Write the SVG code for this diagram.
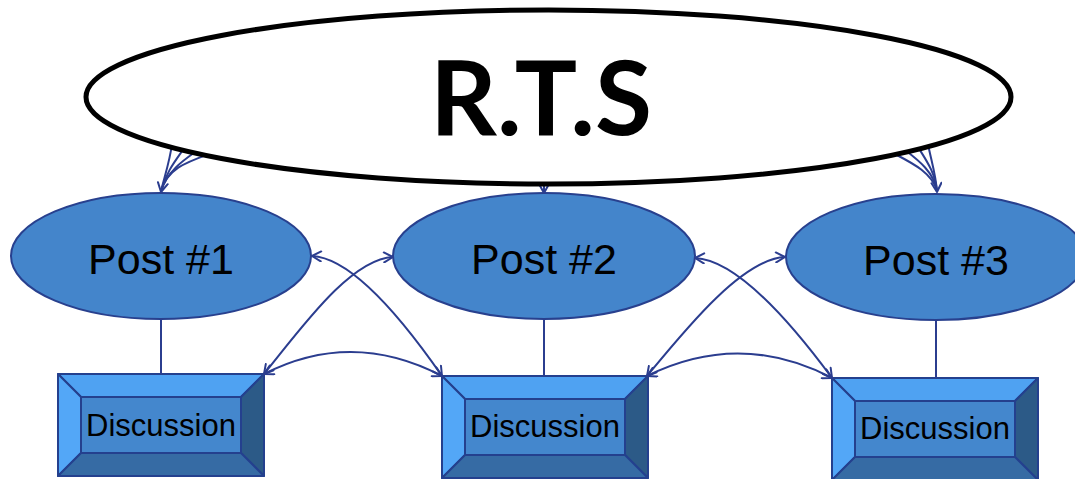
<svg xmlns="http://www.w3.org/2000/svg" width="1075" height="479" viewBox="0 0 1075 479">
  <style>
    .post { fill: #4485cb; stroke: #28408e; stroke-width: 2; }
    .post-label { font-family: "Liberation Sans", Arial, sans-serif; font-size: 43px; fill: #000; text-anchor: middle; }
    .disc-label { font-family: "Liberation Sans", Arial, sans-serif; font-size: 31px; fill: #000; text-anchor: middle; }
    .bevel path, .bevel rect { stroke: #24408e; stroke-width: 2; stroke-linejoin: round; }
    .b-top { fill: #4fa2f2; }
    .b-left { fill: #53a7f7; }
    .b-right { fill: #2c5a87; }
    .b-bottom { fill: #366ba4; }
    .b-face { fill: #4487cd; }
    .link { fill: none; stroke: #2b3d8f; stroke-width: 2; }
    .both { marker-start: url(#head); marker-end: url(#head); }
    .one { marker-end: url(#head); }
  </style>
  <defs>
    <marker id="head" markerUnits="userSpaceOnUse" markerWidth="12" markerHeight="12" viewBox="0 0 12 12" refX="11" refY="6" orient="auto-start-reverse">
      <path d="M2,1 L11,6 L2,11" fill="none" stroke="#2b3d8f" stroke-width="2" stroke-linecap="round" stroke-linejoin="round"/>
    </marker>
    <!-- bevelled button, local size 206 x 102 -->
    <g id="bevel" class="bevel">
      <path class="b-top" d="M0,0 L206,0 L183,23 L23,23 Z"/>
      <path class="b-left" d="M0,0 L23,23 L23,79 L0,102 Z"/>
      <path class="b-right" d="M206,0 L206,102 L183,79 L183,23 Z"/>
      <path class="b-bottom" d="M0,102 L206,102 L183,79 L23,79 Z"/>
      <rect class="b-face" x="23" y="23" width="160" height="56"/>
    </g>
  </defs>

  <!-- posts -->
  <g id="post1">
    <ellipse class="post" cx="161" cy="256" rx="150" ry="63"/>
    <text class="post-label" x="161" y="274">Post #1</text>
  </g>
  <g id="post2">
    <ellipse class="post" cx="544" cy="256" rx="151" ry="63"/>
    <text class="post-label" x="544" y="274">Post #2</text>
  </g>
  <g id="post3">
    <ellipse class="post" cx="936" cy="257" rx="150" ry="63"/>
    <text class="post-label" x="936" y="275">Post #3</text>
  </g>

  <!-- discussion boxes -->
  <g id="discussion1">
    <use href="#bevel" transform="translate(58,374)"/>
    <text class="disc-label" x="161" y="436">Discussion</text>
  </g>
  <g id="discussion2">
    <use href="#bevel" transform="translate(442,376)"/>
    <text class="disc-label" x="545" y="437">Discussion</text>
  </g>
  <g id="discussion3">
    <use href="#bevel" transform="translate(832,378)"/>
    <text class="disc-label" x="935" y="439">Discussion</text>
  </g>

  <!-- connectors -->
  <g id="connectors">
    <!-- post to its discussion -->
    <line class="link" x1="161" y1="319" x2="161" y2="374"/>
    <line class="link" x1="544" y1="319" x2="544" y2="376"/>
    <line class="link" x1="936" y1="320" x2="936" y2="378"/>

    <!-- cross links between posts and discussions -->
    <path class="link both" d="M312,256 C355,258 410,330 442,376"/>
    <path class="link both" d="M393,257 C350,259 300,330 264,374"/>
    <path class="link both" d="M264,374 Q352,329 442,376"/>

    <path class="link both" d="M695,258 C740,260 798,332 832,378"/>
    <path class="link both" d="M785,257 C742,259 685,330 647,376"/>
    <path class="link both" d="M647,376 Q740,330 832,378"/>

    <!-- R.T.S to posts -->
    <path class="link" d="M172,144 C170,160 165,175 161,191"/>
    <path class="link" d="M185,147 C176,160 166,172 161,191"/>
    <path class="link" d="M198,150 C184,160 168,170 161,191"/>
    <path class="link one" d="M212,153 C190,161 166,168 161,192"/>

    <path class="link" d="M893,153 C910,162 932,172 937,191"/>
    <path class="link" d="M905,150 C918,160 934,172 937,191"/>
    <path class="link" d="M918,147 C926,160 935,172 937,191"/>
    <path class="link one" d="M928,144 C931,160 936,175 937,192"/>

    <path class="link one" d="M544,178 L544,193"/>
  </g>

  <!-- R.T.S hub -->
  <g id="rts">
    <ellipse cx="548.5" cy="97" rx="462.5" ry="87" fill="#fff" stroke="#000" stroke-width="5"/>
    <text x="541" y="135" font-family="Lato, 'Open Sans', sans-serif" font-weight="700" font-size="104" text-anchor="middle" fill="#000">R.T.S</text>
  </g>
</svg>
